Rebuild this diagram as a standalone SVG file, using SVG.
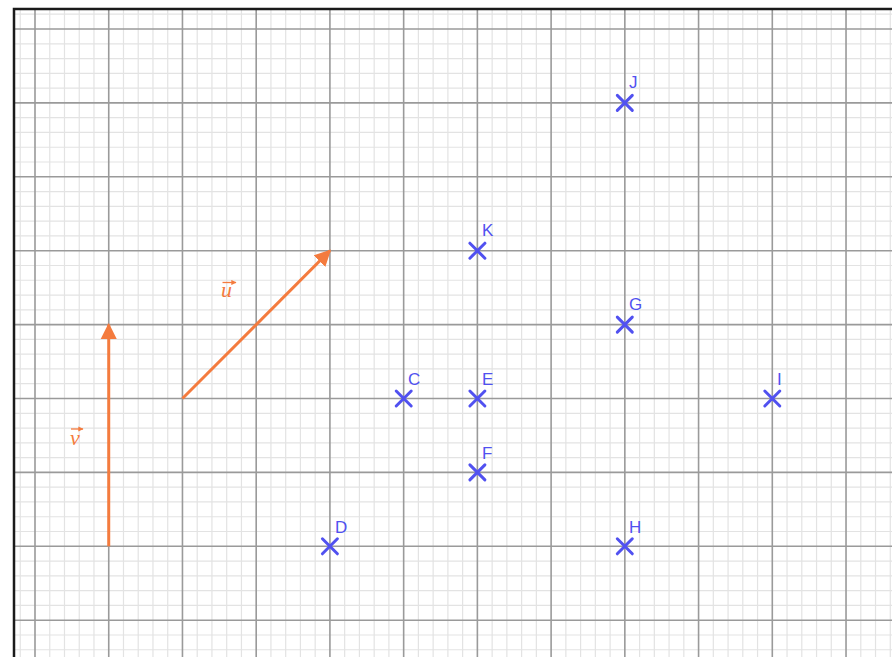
<svg xmlns="http://www.w3.org/2000/svg" width="892" height="657" viewBox="0 0 892 657">
<defs>
<style>
.minor{stroke:#e3e3e3;stroke-width:1.2;fill:none}
.major{stroke:#9a9a9a;stroke-width:1.6;fill:none}
.border{stroke:#1a1a1a;stroke-width:2.5;fill:none}
.pt{stroke:#5151f0;stroke-width:3;stroke-linecap:round;fill:none}
.lbl{font-family:"Liberation Sans",Arial,sans-serif;font-size:17px;fill:#5151f0}
.vec{stroke:#f47b3e;stroke-width:3;fill:none}
.vlbl{font-family:"Liberation Serif","Times New Roman",serif;font-style:italic;font-size:22px;fill:#f47b3e}
.over{stroke:#f47b3e;stroke-width:1.3;fill:none}
</style>
<marker id="ah" viewBox="0 0 10 10" refX="9" refY="5" markerWidth="5.5" markerHeight="5.5" markerUnits="strokeWidth" orient="auto">
<path d="M0,0 L10,5 L0,10 Z" fill="#f47b3e"/>
</marker>
<marker id="sh" viewBox="0 0 10 10" refX="9" refY="5" markerWidth="4" markerHeight="4" markerUnits="strokeWidth" orient="auto">
<path d="M0,0 L10,5 L0,10 Z" fill="#f47b3e"/>
</marker>
</defs>
<rect width="892" height="657" fill="#ffffff"/>
<g id="grid">
<path class="minor" d="M20.25,9V657M49.75,9V657M64.49,9V657M79.24,9V657M93.98,9V657M123.48,9V657M138.22,9V657M152.97,9V657M167.71,9V657M197.21,9V657M211.95,9V657M226.7,9V657M241.44,9V657M270.94,9V657M285.68,9V657M300.43,9V657M315.17,9V657M344.67,9V657M359.41,9V657M374.16,9V657M388.9,9V657M418.4,9V657M433.14,9V657M447.89,9V657M462.63,9V657M492.13,9V657M506.87,9V657M521.62,9V657M536.36,9V657M565.86,9V657M580.6,9V657M595.35,9V657M610.09,9V657M639.59,9V657M654.33,9V657M669.08,9V657M683.82,9V657M713.32,9V657M728.06,9V657M742.81,9V657M757.55,9V657M787.05,9V657M801.79,9V657M816.54,9V657M831.28,9V657M860.78,9V657M875.52,9V657M890.27,9V657
M14,14.22H892M14,43.78H892M14,58.56H892M14,73.34H892M14,88.12H892M14,117.68H892M14,132.46H892M14,147.24H892M14,162.02H892M14,191.58H892M14,206.36H892M14,221.14H892M14,235.92H892M14,265.48H892M14,280.26H892M14,295.04H892M14,309.82H892M14,339.38H892M14,354.16H892M14,368.94H892M14,383.72H892M14,413.28H892M14,428.06H892M14,442.84H892M14,457.62H892M14,487.18H892M14,501.96H892M14,516.74H892M14,531.52H892M14,561.08H892M14,575.86H892M14,590.64H892M14,605.42H892M14,634.98H892M14,649.76H892"/>
<path class="major" d="M35,9V657M108.73,9V657M182.46,9V657M256.19,9V657M329.92,9V657M403.65,9V657M477.38,9V657M551.11,9V657M624.84,9V657M698.57,9V657M772.3,9V657M846.03,9V657
M14,29H892M14,102.9H892M14,176.8H892M14,250.7H892M14,324.6H892M14,398.5H892M14,472.4H892M14,546.3H892M14,620.2H892"/>
<path class="border" d="M14,657V9H892"/>
</g>
<g id="connectors">
<line id="vec-u" class="vec" x1="182.46" y1="398.5" x2="329.92" y2="250.7" marker-end="url(#ah)"/>
<line id="vec-v" class="vec" x1="108.73" y1="546.3" x2="108.73" y2="324.6" marker-end="url(#ah)"/>
<g id="label-u"><text class="vlbl" x="221" y="297">u</text><line class="over" x1="222.5" y1="282.5" x2="236" y2="282.5" marker-end="url(#sh)"/></g>
<g id="label-v"><text class="vlbl" x="70" y="445">v</text><line class="over" x1="71" y1="429" x2="83" y2="429" marker-end="url(#sh)"/></g>
</g>
<g id="J"><path class="pt" d="M617.3,95.4l15,15m0,-15l-15,15"/><text class="lbl" x="629" y="88">J</text></g>
<g id="K"><path class="pt" d="M469.9,243.2l15,15m0,-15l-15,15"/><text class="lbl" x="482" y="236">K</text></g>
<g id="G"><path class="pt" d="M617.3,317.1l15,15m0,-15l-15,15"/><text class="lbl" x="629" y="310">G</text></g>
<g id="C"><path class="pt" d="M396.2,391l15,15m0,-15l-15,15"/><text class="lbl" x="408" y="385">C</text></g>
<g id="E"><path class="pt" d="M469.9,391l15,15m0,-15l-15,15"/><text class="lbl" x="482" y="385">E</text></g>
<g id="I"><path class="pt" d="M764.8,391l15,15m0,-15l-15,15"/><text class="lbl" x="777" y="385">I</text></g>
<g id="F"><path class="pt" d="M469.9,464.9l15,15m0,-15l-15,15"/><text class="lbl" x="482" y="459">F</text></g>
<g id="D"><path class="pt" d="M322.4,538.8l15,15m0,-15l-15,15"/><text class="lbl" x="335" y="533">D</text></g>
<g id="H"><path class="pt" d="M617.3,538.8l15,15m0,-15l-15,15"/><text class="lbl" x="629" y="533">H</text></g>
</svg>
